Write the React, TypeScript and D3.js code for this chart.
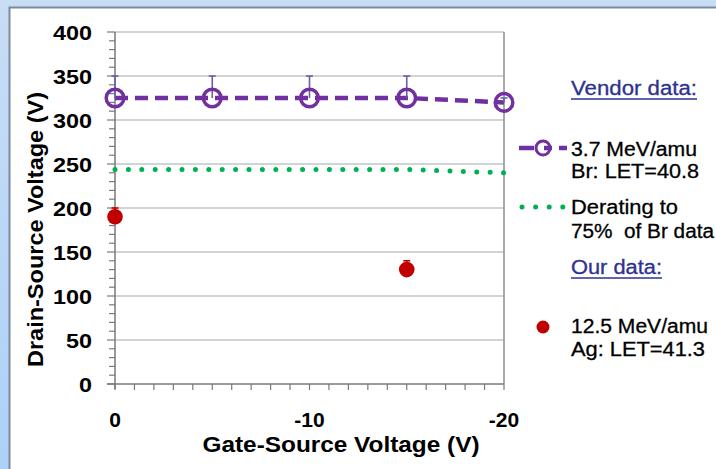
import React from 'react';
import * as d3 from 'd3';

// gate-source voltage (V) for each measured point
const gateVoltages = [0, -5, -10, -15, -20];
const vendorDrain = [325, 325, 325, 325, 320];
const vendorErrTop = [350, 350, 350, 350, 325];
const deratedDrain = [243.75, 243.75, 243.75, 243.75, 240];

const ourGate = [0, -15];
const ourDrain = [190, 130];
const ourErrTop = [200, 140];

const yTicks = [0, 50, 100, 150, 200, 250, 300, 350, 400];
const yMinor = d3.range(0, 401, 10);
const xTicks = [0, -10, -20];
const xMinor = d3.range(0, -21, -1);

const W = 716;
const H = 469;
const PURPLE = '#7030a0';
const GREEN = '#00b050';
const RED = '#c00000';
const FONT = 'Arial, "Liberation Sans", sans-serif';

const App = () => {
  const x = d3.scaleLinear().domain([0, -20]).range([115, 504]);
  const y = d3.scaleLinear().domain([0, 400]).range([384, 32]);

  const vendorLine = d3
    .line<number>()
    .x((_, i) => x(gateVoltages[i]))
    .y((d) => y(d));

  return (
    <svg
      width={W}
      height={H}
      style={{ position: 'absolute', left: 0, top: 0, fontFamily: FONT }}
    >
      <defs>
        <linearGradient id="bg" x1="0" y1="0" x2="0" y2="1">
          <stop offset="0" stopColor="#c8ddf6" />
          <stop offset="1" stopColor="#add1f8" />
        </linearGradient>
      </defs>
      <rect x={0} y={0} width={W} height={H} fill="url(#bg)" />
      <rect x={9.5} y={7.5} width={W + 10} height={H + 10} fill="#fff" stroke="#7d8a9c" strokeWidth={2} />

      {/* grid */}
      {yTicks.slice(1).map((t) => (
        <line key={`g${t}`} x1={x(0)} x2={x(-20)} y1={y(t)} y2={y(t)} stroke="#c4c4c4" strokeWidth={1.5} />
      ))}
      <line x1={x(-20)} x2={x(-20)} y1={y(400)} y2={y(0)} stroke="#8c8c8c" strokeWidth={1.5} />

      {/* y axis */}
      <line x1={x(0)} x2={x(0)} y1={y(400)} y2={y(0) + 5} stroke="#7a7a7a" strokeWidth={1.5} />
      {yMinor.map((t) => (
        <line
          key={`ym${t}`}
          x1={x(0) - (t % 50 === 0 ? 8 : 6)}
          x2={x(0)}
          y1={y(t)}
          y2={y(t)}
          stroke="#7a7a7a"
          strokeWidth={1.2}
        />
      ))}
      {yTicks.map((t) => (
        <text
          key={`yl${t}`}
          x={92}
          y={y(t) + 8}
          textAnchor="end"
          fontSize={21}
          fontWeight="bold"
          fill="#000"
          textLength={String(t).length * 13}
          lengthAdjust="spacingAndGlyphs"
        >
          {t}
        </text>
      ))}

      {/* x axis */}
      <line x1={x(0) - 8} x2={x(-20)} y1={y(0)} y2={y(0)} stroke="#7a7a7a" strokeWidth={1.5} />
      {xMinor.map((t) => (
        <line key={`xm${t}`} x1={x(t)} x2={x(t)} y1={y(0)} y2={y(0) + 6} stroke="#7a7a7a" strokeWidth={1.2} />
      ))}
      {xTicks.map((t) => (
        <text key={`xl${t}`} x={x(t)} y={427} textAnchor="middle" fontSize={21} fontWeight="bold" fill="#000">
          {t}
        </text>
      ))}

      <text x={341} y={452} textAnchor="middle" fontSize={22} fontWeight="bold" textLength={277} lengthAdjust="spacingAndGlyphs">
        Gate-Source Voltage (V)
      </text>
      <text
        transform="translate(43,229.5) rotate(-90)"
        textAnchor="middle"
        fontSize={22}
        fontWeight="bold"
        textLength={275}
        lengthAdjust="spacingAndGlyphs"
      >
        Drain-Source Voltage (V)
      </text>

      {/* derating line */}
      <path
        d={vendorLine(deratedDrain) || ''}
        fill="none"
        stroke={GREEN}
        strokeWidth={5}
        strokeLinecap="round"
        strokeDasharray="0 13.4"
      />

      {/* vendor data */}
      <path d={vendorLine(vendorDrain) || ''} fill="none" stroke={PURPLE} strokeWidth={4.5} strokeDasharray="13 7" />
      {gateVoltages.map((g, i) => (
        <g key={`ve${g}`} stroke="#6a5fa8" strokeWidth={1.6}>
          <line x1={x(g)} x2={x(g)} y1={y(vendorDrain[i])} y2={y(vendorErrTop[i])} />
          <line x1={x(g) - 3.5} x2={x(g) + 3.5} y1={y(vendorErrTop[i])} y2={y(vendorErrTop[i])} />
        </g>
      ))}
      {gateVoltages.map((g, i) => (
        <circle key={`vc${g}`} cx={x(g)} cy={y(vendorDrain[i])} r={8.8} fill="none" stroke={PURPLE} strokeWidth={3.5} />
      ))}

      {/* our data */}
      {ourGate.map((g, i) => (
        <g key={`oe${g}`} stroke={RED} strokeWidth={1.6}>
          <line x1={x(g)} x2={x(g)} y1={y(ourDrain[i])} y2={y(ourErrTop[i])} />
          <line x1={x(g) - 3.5} x2={x(g) + 3.5} y1={y(ourErrTop[i])} y2={y(ourErrTop[i])} />
        </g>
      ))}
      {ourGate.map((g, i) => (
        <circle key={`oc${g}`} cx={x(g)} cy={y(ourDrain[i])} r={7.8} fill={RED} />
      ))}

      {/* legend */}
      <g fontSize={20} fill="#000" stroke="#000" strokeWidth={0.3}>
        <text x={571} y={95} fill="#2e3192" stroke="#2e3192" textLength={126} lengthAdjust="spacingAndGlyphs">Vendor data:</text>
        <line x1={571} x2={697} y1={99} y2={99} stroke="#2e3192" strokeWidth={1.5} />

        <line x1={519} x2={567} y1={148} y2={148} stroke={PURPLE} strokeWidth={4.5} strokeDasharray="15 10 8 7" />
        <circle cx={543} cy={148} r={7} fill="#fff" fillOpacity={0} stroke={PURPLE} strokeWidth={3} />
        <text x={571} y={156} textLength={126} lengthAdjust="spacingAndGlyphs">3.7 MeV/amu</text>
        <text x={571} y={178} textLength={128} lengthAdjust="spacingAndGlyphs">Br: LET=40.8</text>

        <line x1={522} x2={563} y1={207} y2={207} stroke={GREEN} strokeWidth={5} strokeLinecap="round" strokeDasharray="0 13.6" />
        <text x={571} y={214} textLength={107} lengthAdjust="spacingAndGlyphs">Derating to</text>
        <text x={571} y={238} textLength={143} lengthAdjust="spacingAndGlyphs" style={{ whiteSpace: 'pre' }}>75%  of Br data</text>

        <text x={571} y={274} fill="#2e3192" stroke="#2e3192" textLength={91} lengthAdjust="spacingAndGlyphs">Our data:</text>
        <line x1={571} x2={662} y1={278} y2={278} stroke="#2e3192" strokeWidth={1.5} />

        <circle cx={543} cy={327} r={6.5} fill={RED} stroke="none" />
        <text x={571} y={333} textLength={137} lengthAdjust="spacingAndGlyphs">12.5 MeV/amu</text>
        <text x={571} y={356} textLength={134} lengthAdjust="spacingAndGlyphs">Ag: LET=41.3</text>
      </g>
    </svg>
  );
};

export default App;
